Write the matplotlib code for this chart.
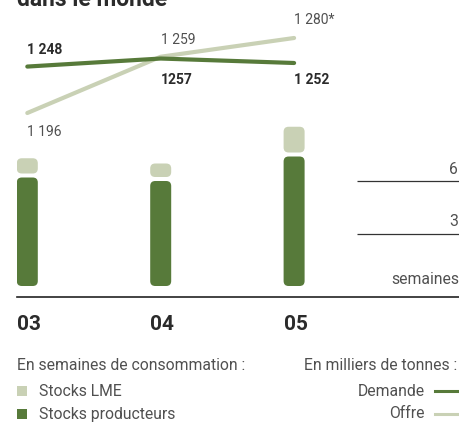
import matplotlib
matplotlib.use("Agg")
import matplotlib.pyplot as plt
from matplotlib.patches import FancyBboxPatch, Rectangle
from matplotlib.lines import Line2D

plt.rcParams['font.family'] = ['Roboto', 'DejaVu Sans']

# Donnees
annees = ["03", "04", "05"]
demande = [1248, 1257, 1252]          # milliers de tonnes
offre = [1196, 1259, 1280]
offre_labels = ["1 196", "1 259", "1 280*"]
demande_labels = ["1 248", "1257", "1 252"]
stocks_producteurs = [6.2, 6.0, 7.4]  # semaines de consommation
stocks_lme = [1.1, 1.0, 1.7]
graduations = [3, 6]

vert = "#577a3a"
vert_clair = "#c9d1b5"
texte = "#2b2b2b"
gris = "#505050"
taille_leg = 11.3

W, H = 459, 425
fig = plt.figure(figsize=(W / 100, H / 100), dpi=100)

def fx(px):
    return px / W

def fy(py):
    return 1 - py / H

# positions horizontales communes (pixels)
x0_px, pas_px = 27.3, 133.4
gauche_px, droite_px = 17, 459
xlim = ((gauche_px - x0_px) / pas_px, (droite_px - x0_px) / pas_px)

# --- Barres (stocks) ---
px_par_sem = 17.5
bas_px, haut_px = 297, 118
axb = fig.add_axes([fx(gauche_px), fy(bas_px), fx(droite_px - gauche_px),
                    (bas_px - haut_px) / H])
axb.set_xlim(*xlim)
axb.set_ylim(-(bas_px - 286) / px_par_sem, (286 - haut_px) / px_par_sem)
for s in ["top", "right", "left"]:
    axb.spines[s].set_visible(False)
axb.spines["bottom"].set_linewidth(1.2)
axb.spines["bottom"].set_color("#222222")
axb.set_xticks([])
axb.set_yticks([])
axb.patch.set_alpha(0)

larg = 21 / pas_px
aspect = pas_px / px_par_sem
rayon = 5 / pas_px
ecart = 4 / px_par_sem
for i in range(len(annees)):
    p = stocks_producteurs[i]
    l = stocks_lme[i]
    axb.add_patch(FancyBboxPatch((i - larg / 2, 0), larg, p,
                                 boxstyle=f"round,pad=0,rounding_size={rayon}",
                                 mutation_aspect=aspect, fc=vert, ec="none"))
    axb.add_patch(FancyBboxPatch((i - larg / 2, p + ecart), larg, l - ecart,
                                 boxstyle=f"round,pad=0,rounding_size={rayon}",
                                 mutation_aspect=aspect, fc=vert_clair, ec="none"))

xg0 = (357 - x0_px) / pas_px
for g in graduations:
    axb.plot([xg0, xlim[1]], [g, g], color="#333333", lw=0.9, solid_capstyle="butt")
    axb.annotate(str(g), (xlim[1], g), xytext=(-1, 4), textcoords="offset pixels",
                 ha="right", va="bottom", fontsize=taille_leg, color=gris)
axb.text(xlim[1], 0.4, "semaines", ha="right", va="center",
         fontsize=taille_leg, color=gris)

# --- Courbes (milliers de tonnes) ---
lt_haut, lt_bas = 0, 140
pente = 0.893   # px par millier de tonnes
axl = fig.add_axes([fx(gauche_px), fy(lt_bas), fx(droite_px - gauche_px),
                    (lt_bas - lt_haut) / H])
axl.set_xlim(*xlim)
axl.set_ylim(1196 - (lt_bas - 113) / pente, 1196 + (113 - lt_haut) / pente)
axl.axis("off")
axl.patch.set_alpha(0)

xs = range(len(annees))
axl.plot(xs, offre, color=vert_clair, lw=3, solid_capstyle="round")
axl.plot(xs, demande, color=vert, lw=3, solid_capstyle="round")

offs_offre = [-19, 17, 18]
offs_demande = [17, -21, -17]
for i in xs:
    axl.annotate(offre_labels[i], (i, offre[i]), xytext=(0, offs_offre[i]),
                 textcoords="offset pixels", ha="left", va="center",
                 fontsize=10, color=gris)
    axl.annotate(demande_labels[i], (i, demande[i]), xytext=(0, offs_demande[i]),
                 textcoords="offset pixels", ha="left", va="center",
                 fontsize=10, color=texte, fontweight="bold")

# titre (coupe en haut comme dans l'original)
fig.text(fx(17), fy(6), "dans le monde", ha="left", va="baseline",
         fontsize=16.5, fontweight="bold", color=texte)

# annees
for i, a in enumerate(annees):
    axb.annotate(a, (i - larg / 2, 0), xytext=(0, -(325 - 286)),
                 textcoords="offset pixels", ha="left", va="center",
                 fontsize=15, fontweight="bold", color=texte)

# legendes
fig.text(fx(17), fy(366), "En semaines de consommation :", ha="left", va="center",
         fontsize=taille_leg, color=gris)
fig.text(fx(457), fy(366), "En milliers de tonnes :", ha="right", va="center",
         fontsize=taille_leg, color=gris)
for y, c, lab in [(391, vert_clair, "Stocks LME"), (414, vert, "Stocks producteurs")]:
    fig.patches.append(Rectangle((fx(17), fy(y + 5)), fx(10), 10 / H,
                                 transform=fig.transFigure, fc=c, ec="none"))
    fig.text(fx(39), fy(y), lab, ha="left", va="center",
             fontsize=taille_leg, color=gris)
for y, c, lab in [(391, vert, "Demande"), (414, vert_clair, "Offre")]:
    fig.lines.append(Line2D([fx(435), fx(457)], [fy(y), fy(y)],
                            transform=fig.transFigure, color=c, lw=2.2))
    fig.text(fx(425), fy(y), lab, ha="right", va="center",
             fontsize=taille_leg, color=gris)

fig.savefig("out.png", dpi=100)
